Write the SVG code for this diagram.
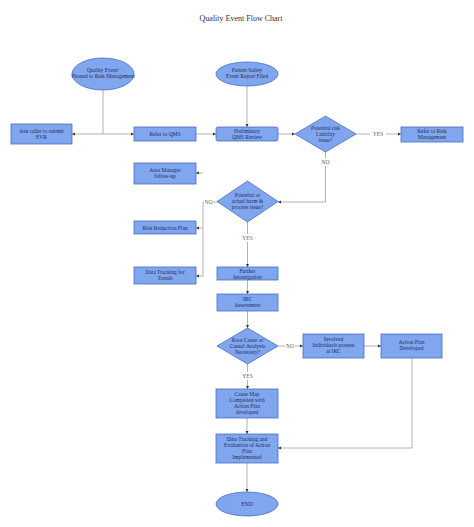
<svg xmlns="http://www.w3.org/2000/svg" width="474" height="527" viewBox="0 0 474 527">
<defs>
<style>
.n{fill:#7fa6ee;stroke:#4a6fbf;stroke-width:0.8}
.t{font-family:"Liberation Serif",serif;font-size:5.5px;fill:#1f2d5c;text-anchor:middle}
.l{font-family:"Liberation Serif",serif;font-size:5.5px;fill:#666;text-anchor:middle}
.c{fill:none;stroke:#a0a0a0;stroke-width:0.8}
</style>
<marker id="a" viewBox="0 0 6 6" refX="6" refY="3" markerWidth="4" markerHeight="4" orient="auto"><path d="M0,0L6,3L0,6z" fill="#333"/></marker>
</defs>
<rect width="474" height="527" fill="#fff"/>
<text x="241" y="21" font-family="Liberation Serif,serif" font-size="8" fill="#333" text-anchor="middle">Quality Event Flow Chart</text>
<g id="connectors">
<path class="c" d="M103,90V134"/>
<path class="c" d="M103,134H72" marker-end="url(#a)"/>
<path class="c" d="M103,134H134" marker-end="url(#a)"/>
<path class="c" d="M196,134H216" marker-end="url(#a)"/>
<path class="c" d="M247,86V127" marker-end="url(#a)"/>
<path class="c" d="M278,134H295" marker-end="url(#a)"/>
<path class="c" d="M356,134H370M386,134H401" marker-end="url(#a)"/>
<path class="c" d="M325.5,152V158M325.5,166V202H278" marker-end="url(#a)"/>
<path class="c" d="M217,202H213M204,202H203V276H196" marker-end="url(#a)"/>
<path class="c" d="M203,173H196" marker-end="url(#a)"/>
<path class="c" d="M203,228H196" marker-end="url(#a)"/>
<path class="c" d="M247.5,222V234M247.5,242V267" marker-end="url(#a)"/>
<path class="c" d="M247.5,280V294" marker-end="url(#a)"/>
<path class="c" d="M247.5,311V328" marker-end="url(#a)"/>
<path class="c" d="M278,346H285M295,346H303" marker-end="url(#a)"/>
<path class="c" d="M364,346H381" marker-end="url(#a)"/>
<path class="c" d="M247.5,364V372M247.5,380V389" marker-end="url(#a)"/>
<path class="c" d="M247,418V434" marker-end="url(#a)"/>
<path class="c" d="M412,358V448H278" marker-end="url(#a)"/>
<path class="c" d="M247,463V492" marker-end="url(#a)"/>
<text class="l" x="378" y="136">YES</text>
<text class="l" x="325.5" y="164">NO</text>
<text class="l" x="208.5" y="204">NO</text>
<text class="l" x="247.5" y="240">YES</text>
<text class="l" x="290" y="348">NO</text>
<text class="l" x="247.5" y="378">YES</text>
</g>
<g id="quality-event"><ellipse class="n" cx="103" cy="74" rx="31" ry="16"/><text class="t" x="103" y="72">Quality Event/</text><text class="t" x="103" y="78">Phoned to Risk Management</text></g>
<g id="patient-safety"><ellipse class="n" cx="247" cy="74" rx="31" ry="12"/><text class="t" x="247" y="72">Patient Safety</text><text class="t" x="247" y="78">Event Report Filed</text></g>
<g id="ask-caller"><rect class="n" x="11" y="124" width="61" height="20"/><text class="t" x="41.5" y="133">Ask caller to submit</text><text class="t" x="41.5" y="139">EVR</text></g>
<g id="refer-qms"><rect class="n" x="134" y="127" width="62" height="14"/><text class="t" x="165" y="136">Refer to QMS</text></g>
<g id="preliminary"><rect class="n" x="216" y="127" width="62" height="14" rx="2"/><text class="t" x="247" y="133">Preliminary</text><text class="t" x="247" y="139">QMS Review</text></g>
<g id="risk-liability"><path class="n" d="M325.5,116L356,134L325.5,152L295,134Z"/><text class="t" x="325.5" y="130">Potential risk</text><text class="t" x="325.5" y="136">Liability</text><text class="t" x="325.5" y="142">issue?</text></g>
<g id="refer-risk"><rect class="n" x="401" y="127" width="62" height="15"/><text class="t" x="432" y="133">Refer to Risk</text><text class="t" x="432" y="139">Management</text></g>
<g id="harm-issue"><path class="n" d="M247.5,181L278,201.5L247.5,222L217,201.5Z"/><text class="t" x="247.5" y="197">Potential or</text><text class="t" x="247.5" y="203">actual harm &amp;</text><text class="t" x="247.5" y="209">process issue?</text></g>
<g id="area-manager"><rect class="n" x="134" y="163" width="62" height="21"/><text class="t" x="165" y="172">Area Manager</text><text class="t" x="165" y="178">follow-up</text></g>
<g id="risk-reduction"><rect class="n" x="134" y="221" width="62" height="13"/><text class="t" x="165" y="229.5">Risk Reduction Plan</text></g>
<g id="data-trends"><rect class="n" x="134" y="267" width="62" height="17"/><text class="t" x="165" y="274">Data Tracking for</text><text class="t" x="165" y="280">Trends</text></g>
<g id="further"><rect class="n" x="217" y="267" width="61" height="13"/><text class="t" x="247.5" y="272.5">Further</text><text class="t" x="247.5" y="278.5">Investigation</text></g>
<g id="irc"><rect class="n" x="217" y="294" width="61" height="17"/><text class="t" x="247.5" y="301">IRC</text><text class="t" x="247.5" y="307">Assessment</text></g>
<g id="root-cause"><path class="n" d="M247.5,328L278,346L247.5,364L217,346Z"/><text class="t" x="247.5" y="342">Root Cause or</text><text class="t" x="247.5" y="348">Causal Analysis</text><text class="t" x="247.5" y="354">Necessary?</text></g>
<g id="involved"><rect class="n" x="303" y="334" width="61" height="24"/><text class="t" x="333.5" y="341">Involved</text><text class="t" x="333.5" y="347">Individuals present</text><text class="t" x="333.5" y="353">at IRC</text></g>
<g id="action-plan"><rect class="n" x="381" y="334" width="61" height="24"/><text class="t" x="411.5" y="344">Action Plan</text><text class="t" x="411.5" y="350">Developed</text></g>
<g id="cause-map"><rect class="n" x="216" y="389" width="62" height="29"/><text class="t" x="247" y="396">Cause Map</text><text class="t" x="247" y="402">Completed with</text><text class="t" x="247" y="408">Action Plan</text><text class="t" x="247" y="414">developed</text></g>
<g id="data-eval"><rect class="n" x="216" y="434" width="62" height="29"/><text class="t" x="247" y="441">Data Tracking and</text><text class="t" x="247" y="447">Evaluation of Action</text><text class="t" x="247" y="453">Plan</text><text class="t" x="247" y="459">Implemented</text></g>
<g id="end"><ellipse class="n" cx="247" cy="504" rx="31" ry="12"/><text class="t" x="247" y="506">END</text></g>
</svg>
